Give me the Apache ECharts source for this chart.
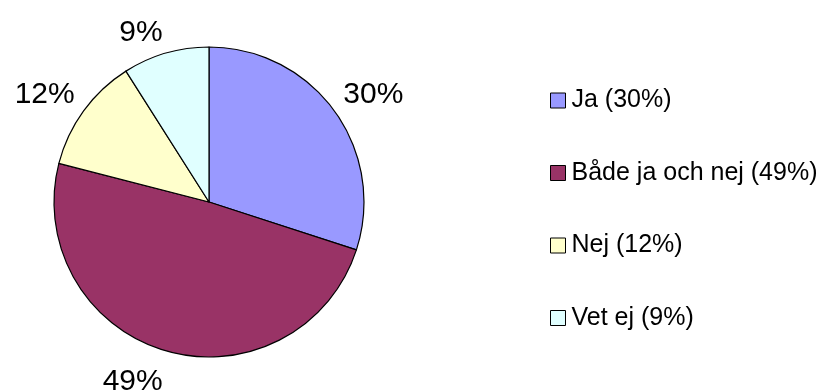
<!DOCTYPE html>
<html>
<head>
<meta charset="utf-8">
<title>Pie</title>
<script src="https://cdn.jsdelivr.net/npm/echarts@6/dist/echarts.min.js"></script>
<style>
  html, body { margin: 0; padding: 0; background: #fff; }
  #chart { width: 827px; height: 392px; }
</style>
</head>
<body>
<div id="chart"></div>
<script>
// Answer categories and their shares (percent)
const categories = ['Ja', 'Både ja och nej', 'Nej', 'Vet ej'];
const shares = [30, 49, 12, 9];
const sliceColors = ['#9999FF', '#993366', '#FFFFCC', '#E0FFFF'];

const FONT = '"Liberation Sans", Arial, sans-serif';

const seriesData = categories.map((name, i) => ({
  name: name,
  value: shares[i],
  itemStyle: { color: sliceColors[i] }
}));

const chart = echarts.init(document.getElementById('chart'), null, { renderer: 'canvas' });

chart.setOption({
  backgroundColor: '#ffffff',
  animation: false,
  legend: {
    orient: 'vertical',
    left: 545,
    top: 83,
    itemWidth: 15,
    itemHeight: 15,
    itemGap: 47.5,
    icon: 'rect',
    selectedMode: false,
    itemStyle: { borderColor: '#000', borderWidth: 1 },
    textStyle: {
      fontFamily: FONT,
      fontSize: 25,
      lineHeight: 25,
      color: '#000',
      padding: [0, 0, 0, 1]
    },
    formatter: function (name) {
      const i = categories.indexOf(name);
      return name + ' (' + shares[i] + '%)';
    },
    data: categories
  },
  series: [{
    type: 'pie',
    center: [209, 202],
    radius: 155,
    startAngle: 90,
    clockwise: true,
    avoidLabelOverlap: false,
    itemStyle: { borderColor: '#000', borderWidth: 1.2 },
    emphasis: { disabled: true },
    label: {
      show: true,
      position: 'outside',
      formatter: '{c}%',
      fontFamily: FONT,
      fontSize: 30,
      color: '#000',
      distanceToLabelLine: 0
    },
    labelLine: {
      show: true,
      length: 11,
      length2: 0,
      lineStyle: { opacity: 0 }
    },
    // Place each label so its corner nearest the pie sits on the slice's mid-angle ray
    labelLayout: function (params) {
      const pts = params.labelLinePoints;
      if (!pts || pts.length < 2) return {};
      const dx = pts[1][0] - pts[0][0];
      const dy = pts[1][1] - pts[0][1];
      return {
        x: pts[1][0],
        y: pts[1][1] + 5,
        align: dx >= 0 ? 'left' : 'right',
        verticalAlign: dy >= 0 ? 'top' : 'bottom'
      };
    },
    data: seriesData
  }]
});
</script>
</body>
</html>
